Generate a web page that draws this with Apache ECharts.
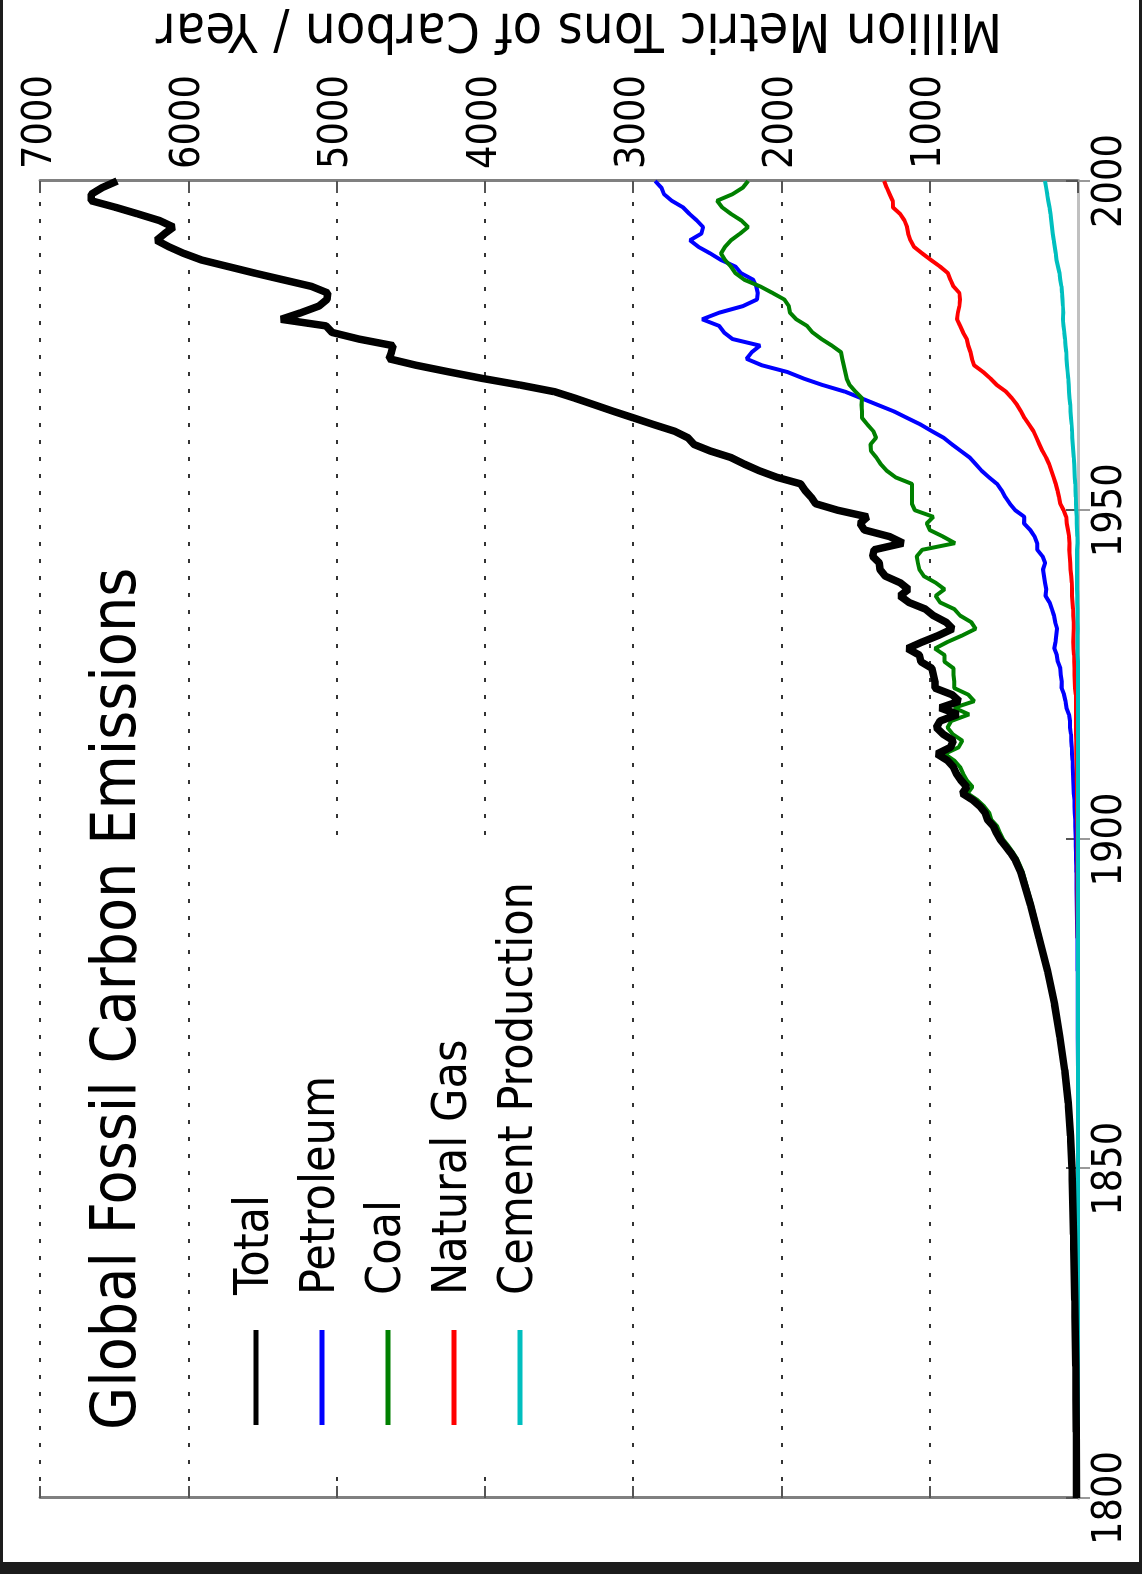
<!DOCTYPE html>
<html>
<head>
<meta charset="utf-8">
<script src="https://cdn.jsdelivr.net/npm/echarts@6/dist/echarts.min.js"></script>
<style>
html,body{margin:0;padding:0;background:#1c1c1c;width:1142px;height:1574px;overflow:hidden;}
#paper{position:absolute;left:3px;top:0;width:1136px;height:1562px;background:#fff;}
#chart{position:absolute;left:0;top:0;width:1574px;height:1142px;transform-origin:0 0;transform:translateY(1574px) rotate(-90deg);}
</style>
</head>
<body>
<div id="paper"></div>
<div id="chart"></div>
<script>
// ---- data (million metric tons of carbon per year) ----
const sparseYears = [1800,1810,1820,1830,1840,1850,1855,1860,1865,1870,1875,1880,1885,1890];
const annualYears = Array.from({length: 106}, (_, i) => 1895 + i); // 1895..2000
const years = sparseYears.concat(annualYears);

const total = [
  10,12,15,22,30,40,50,66,90,122,158,205,262,320,
  385,405,425,455,490,
  525,550,570,610,625,660,710,780,750,790,
  820,840,880,950,860,840,910,955,930,810,
  930,800,850,965,965,975,985,1060,1070,1150,
  1050,940,845,890,975,1030,1140,1200,1144,1200,
  1300,1335,1340,1385,1375,1180,1270,1440,1470,1420,
  1620,1770,1800,1840,1870,2030,2150,2250,2340,2480,
  2590,2630,2720,2860,2994,3130,3260,3390,3530,3760,
  4012,4240,4460,4646,4630,4619,4850,5030,5071,5374,
  5240,5120,5065,5060,5170,5360,5550,5730,5910,6030,
  6130,6214,6160,6100,6195,6340,6490,6654,6654,6580,
  6480
];
const petroleum = [
  0,0,0,0,0,0,0,0,0,1,2,3,5,9,
  11,12,13,14,15,
  16,17,18,19,22,23,24,28,30,32,
  34,36,37,41,42,45,48,54,54,61,
  78,84,94,111,110,116,119,136,143,160,
  152,147,141,154,162,176,192,219,214,222,
  229,236,222,239,275,275,292,322,364,362,
  423,460,490,515,546,600,650,690,730,790,
  850,905,985,1060,1150,1240,1350,1460,1570,1720,
  1850,1960,2130,2235,2200,2144,2330,2387,2420,2535,
  2420,2260,2165,2160,2170,2190,2272,2310,2407,2480,
  2560,2616,2540,2528,2570,2620,2664,2740,2792,2810,
  2852
];
const coal = [
  10,12,15,22,30,40,50,66,90,120,155,200,255,310,
  372,390,410,438,470,
  505,527,545,585,598,632,678,745,712,750,
  775,795,835,900,805,780,845,880,855,735,
  835,700,740,835,835,840,840,900,900,965,
  880,780,690,720,795,835,930,960,900,960,
  1040,1070,1080,1088,1050,830,910,1000,1020,975,
  1100,1120,1119,1119,1119,1230,1290,1330,1360,1396,
  1400,1362,1380,1420,1456,1456,1460,1456,1500,1540,
  1560,1570,1580,1590,1598,1660,1730,1790,1827,1900,
  1942,1950,1980,2060,2144,2250,2310,2340,2380,2407,
  2380,2340,2280,2225,2270,2340,2400,2434,2330,2260,
  2225
];
const naturalGas = [
  0,0,0,0,0,0,0,0,0,0,0,0,1,3,
  3,3,3,3,4,
  4,4,4,5,5,6,6,7,7,8,
  8,9,10,11,11,12,13,14,14,13,
  13,13,15,20,22,23,24,26,27,31,
  32,30,28,29,32,34,37,40,40,42,
  46,50,53,56,59,58,60,68,76,80,
  97,120,128,138,150,165,180,195,215,240,
  260,280,300,330,360,385,411,445,485,546,
  590,640,700,715,725,740,750,775,795,816,
  810,800,796,800,840,860,877,930,991,1050,
  1106,1130,1145,1153,1170,1200,1248,1250,1270,1290,
  1308
];
const cement = [
  0,0,0,0,0,0,0,0,0,0,0,0,0,0,
  0,0,0,0,0,
  0,0,0,0,0,0,0,0,0,0,
  0,0,0,0,0,0,0,0,0,0,
  0,0,0,0,0,0,0,0,3,3,
  3,3,2,3,3,4,5,5,6,6,
  7,7,7,7,6,4,5,7,8,9,
  12,14,15,17,19,22,24,26,28,32,
  35,38,40,43,47,50,53,57,61,63,
  65,70,74,78,79,85,88,92,98,102,
  100,102,105,108,112,120,125,135,145,150,
  157,163,170,175,180,185,192,200,208,215,
  222
];
const seriesNames = ['Total','Petroleum','Coal','Natural Gas','Cement Production'];
const yearTicks = [1800,1850,1900,1950,2000];
const valueTicks = [0,1000,2000,3000,4000,5000,6000,7000];

// ---- chart ----
const FONT = '"DejaVu Sans Condensed","DejaVu Sans",sans-serif';
const pairs = arr => years.map((y, i) => [y, arr[i]]);

const chart = echarts.init(document.getElementById('chart'), null, {renderer: 'canvas', width: 1574, height: 1142});

const mkSeries = (name, arr, color, width, z) => ({
  name, type: 'line', data: pairs(arr), symbol: 'none', showSymbol: false,
  lineStyle: {color, width}, itemStyle: {color}, z, silent: true
});

chart.setOption({
  animation: false,
  textStyle: {fontFamily: FONT},
  title: {
    text: 'Global Fossil Carbon Emissions',
    left: 144, top: 88, padding: 0,
    textStyle: {fontSize: 62, fontWeight: 'normal', color: '#000', fontFamily: FONT}
  },
  legend: {
    orient: 'vertical', left: 106, top: 211,
    padding: [20, 47, 20, 43], backgroundColor: '#fff',
    itemWidth: 95, itemHeight: 5, itemGap: 16,
    data: seriesNames.map(n => ({name: n, icon: 'rect'})),
    textStyle: {fontSize: 48, color: '#000', lineHeight: 50, padding: [0, 0, 0, 30], fontFamily: FONT}
  },
  grid: {left: 76, right: 181, top: 40, bottom: 64, outerBoundsMode: 'none', containLabel: false},
  xAxis: [
    {
      type: 'value', min: yearTicks[0], max: yearTicks[yearTicks.length - 1], interval: 50, position: 'bottom',
      axisLine: {lineStyle: {color: '#808080', width: 3}},
      axisTick: {inside: true, length: 12, lineStyle: {color: '#555', width: 2}},
      axisLabel: {fontSize: 41, color: '#000', margin: 12, fontFamily: FONT, formatter: v => String(v)},
      splitLine: {show: false}
    },
    {
      type: 'value', min: yearTicks[0], max: yearTicks[yearTicks.length - 1], interval: 50, position: 'top',
      axisLine: {lineStyle: {color: '#c0c0c0', width: 3}},
      axisTick: {inside: true, length: 12, lineStyle: {color: '#999', width: 2}},
      axisLabel: {show: false}, splitLine: {show: false}
    }
  ],
  yAxis: [
    {
      type: 'value', min: valueTicks[0], max: valueTicks[valueTicks.length - 1], interval: 1000, position: 'right',
      name: 'Million Metric Tons of Carbon / Year', nameLocation: 'middle', nameRotate: 90, nameGap: 126,
      nameTextStyle: {fontSize: 54, color: '#000', fontFamily: FONT, padding: [0, 40, 0, 0]},
      axisLine: {show: true, lineStyle: {color: '#808080', width: 3}},
      axisTick: {show: true, inside: true, length: 12, lineStyle: {color: '#555', width: 2}},
      axisLabel: {fontSize: 41, color: '#000', margin: 12, fontFamily: FONT, formatter: v => (v === 0 ? '' : String(v))},
      splitLine: {show: true, lineStyle: {color: '#333', width: 2, type: [4, 13]}}
    },
    {
      type: 'value', min: valueTicks[0], max: valueTicks[valueTicks.length - 1], interval: 1000, position: 'left',
      axisLine: {show: true, lineStyle: {color: '#808080', width: 3}},
      axisTick: {show: true, inside: true, length: 12, lineStyle: {color: '#555', width: 2}},
      axisLabel: {show: false}, splitLine: {show: false}
    }
  ],
  series: [
    mkSeries('Petroleum', petroleum, '#0000ff', 4, 3),
    mkSeries('Coal', coal, '#008000', 4, 3),
    mkSeries('Natural Gas', naturalGas, '#ff0000', 4, 3),
    mkSeries('Cement Production', cement, '#00bfbf', 4, 3),
    mkSeries('Total', total, '#000000', 7.5, 4)
  ]
});
</script>
</body>
</html>
